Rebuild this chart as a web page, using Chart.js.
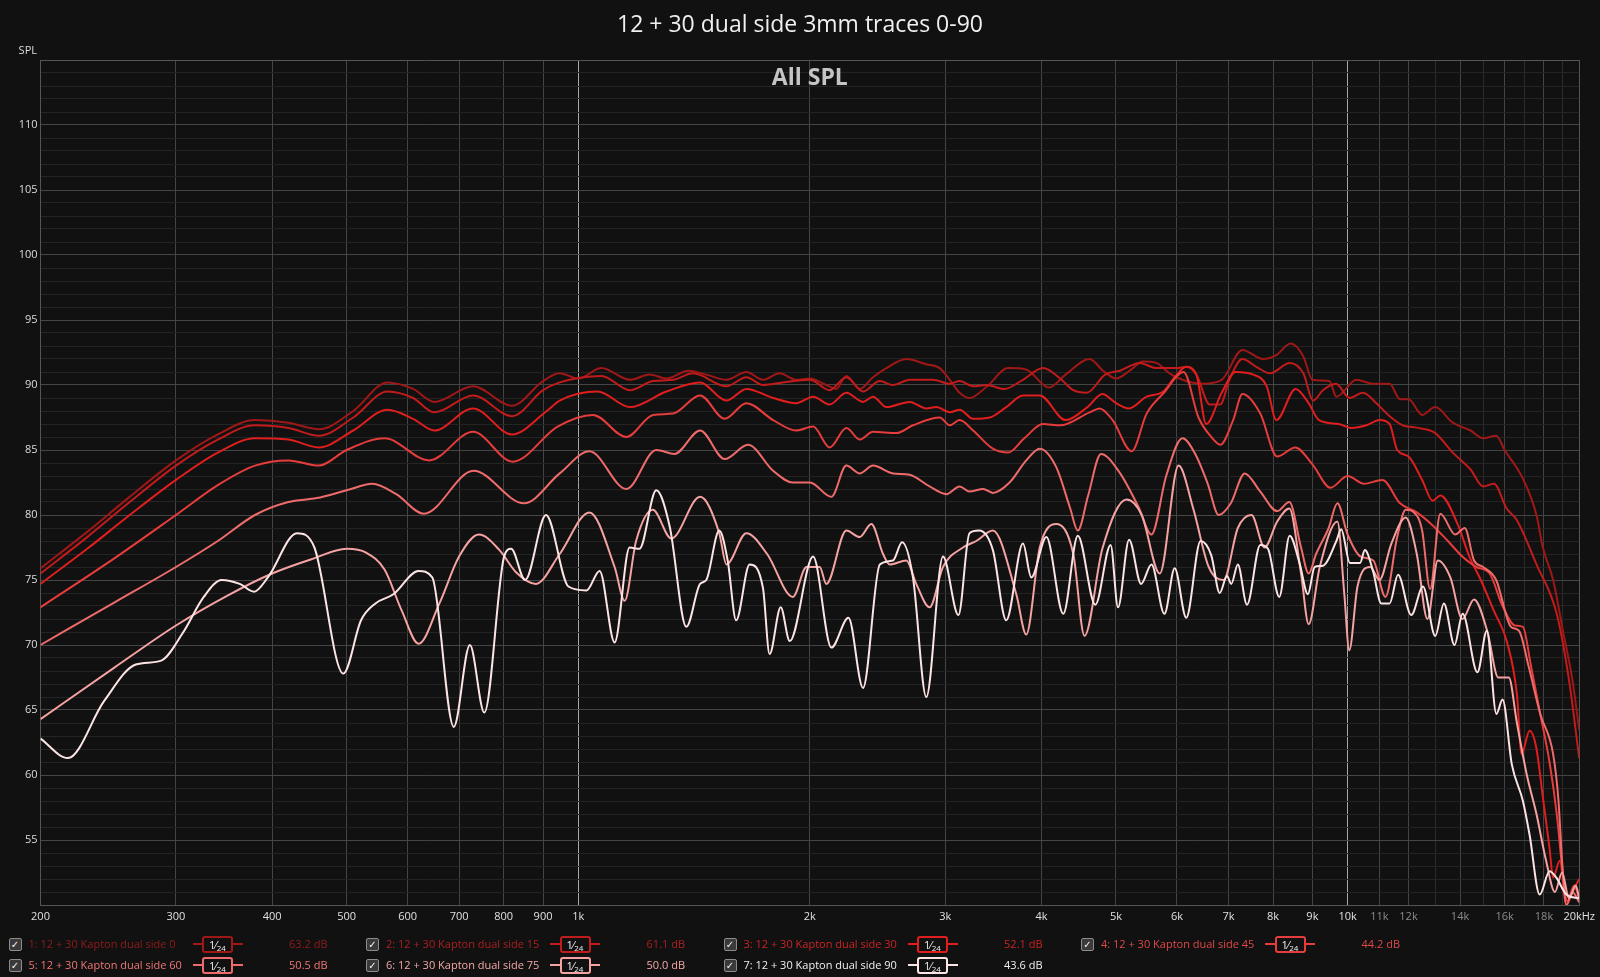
<!DOCTYPE html>
<html>
<head>
<meta charset="utf-8">
<script src="https://cdn.jsdelivr.net/npm/chart.js@4.4.1/dist/chart.umd.min.js"></script>
<style>
  html, body { margin: 0; padding: 0; background: #111111; }
  #wrap { position: relative; width: 1600px; height: 977px; overflow: hidden; font-family: 'Open Sans', sans-serif; }
  #canvas { position: absolute; left: 0; top: 0; }
  .cb { position: absolute; width: 11px; height: 11px; border: 1px solid #8c8c8c; border-radius: 2px; background: #3a3a3a; color: #f4f4f4; font: bold 10px 'DejaVu Sans', sans-serif; line-height: 11px; text-align: center; }
  .nm { position: absolute; font-size: 11px; line-height: 14px; white-space: nowrap; }
  .ln { position: absolute; height: 2px; }
  .bx { position: absolute; width: 27px; height: 13px; border: 2px solid; border-radius: 3px; background: #111; color: #f2f2f2; font-size: 11px; line-height: 13px; text-align: center; }
  .bx sub { font-size: 8px; vertical-align: -2px; line-height: 0; }
  .val { position: absolute; font-size: 11px; line-height: 14px; text-align: right; width: 60px; white-space: nowrap; }
</style>
</head>
<body>
<div id="wrap">
  <canvas id="canvas" width="1600" height="977"></canvas>
  <div id="legend"></div>
</div>
<script>
'use strict';

const chartTitle = '12 + 30 dual side 3mm traces 0-90';

// x axis ticks (Hz) and their labels ('' = grid line only)
const freqTicks = [200, 300, 400, 500, 600, 700, 800, 900, 1000, 2000, 3000, 4000, 5000, 6000, 7000, 8000, 9000,
  10000, 11000, 12000, 13000, 14000, 15000, 16000, 17000, 18000, 19000, 20000];
const freqLabels = ['200', '300', '400', '500', '600', '700', '800', '900', '1k', '2k', '3k', '4k', '5k', '6k', '7k', '8k', '9k',
  '10k', '11k', '12k', '', '14k', '', '16k', '', '18k', '', '20kHz'];
const dimLabels = ['11k', '12k', '14k', '16k', '18k'];

const seriesNames = ['1: 12 + 30 Kapton dual side 0', '2: 12 + 30 Kapton dual side 15', '3: 12 + 30 Kapton dual side 30',
  '4: 12 + 30 Kapton dual side 45', '5: 12 + 30 Kapton dual side 60', '6: 12 + 30 Kapton dual side 75',
  '7: 12 + 30 Kapton dual side 90'];
const seriesLevels = ['63.2 dB', '61.1 dB', '52.1 dB', '44.2 dB', '50.5 dB', '50.0 dB', '43.6 dB'];
const lineColors = ['#a01717', '#c21b1b', '#e01e1e', '#e63c3c', '#ef6b6b', '#f5a2a2', '#fde4e4'];
const textColors = ['#931c1c', '#ae1f1f', '#cc2424', '#e04848', '#f07676', '#f6a8a8', '#f0f0f0'];

// [Hz, dB SPL]
const side0 = [[200,75.9],[230,78.7],[260,81.3],[300,84.2],[340,86.2],[380,87.3],[420,87.1],[460,86.6],[510,88.0],[565,90.2],[610,89.7],[650,88.7],[730,89.9],[820,88.4],[900,90.3],[946,90.9],[1000,90.5],[1072,91.3],[1167,90.4],[1238,90.8],[1302,90.5],[1390,91.1],[1467,90.8],[1558,90.4],[1654,91.0],[1738,90.4],[1827,90.9],[1920,90.4],[2000,90.5],[2101,90.0],[2165,89.7],[2231,90.7],[2322,89.7],[2416,90.6],[2515,91.3],[2669,92.0],[2834,91.6],[2950,91.3],[3040,90.4],[3131,89.4],[3225,89.0],[3400,89.9],[3620,91.3],[3820,91.2],[4090,89.8],[4300,90.8],[4620,92.0],[4810,91.1],[5000,90.5],[5210,91.1],[5420,91.8],[5640,91.7],[5870,90.9],[6100,90.4],[6470,90.1],[6860,90.4],[7300,92.7],[7760,92.0],[8080,92.3],[8430,93.2],[8760,92.2],[9000,90.4],[9470,90.3],[9670,89.1],[10270,90.4],[10790,90.1],[11340,90.1],[11700,88.9],[12000,88.9],[12500,87.7],[13000,88.3],[13700,87.1],[14450,86.5],[15000,85.9],[15600,86.1],[16000,85.0],[16900,82.8],[17600,80.0],[17940,77.5],[18500,75.0],[19050,71.1],[19600,67.3],[20000,63.5]];
const side15 = [[200,75.5],[230,78.3],[260,80.9],[300,83.8],[340,85.8],[380,86.9],[420,86.7],[460,86.1],[510,87.5],[565,89.5],[610,89.0],[650,87.9],[730,89.2],[820,87.6],[900,89.6],[946,90.2],[1072,90.7],[1167,89.6],[1251,90.3],[1328,90.4],[1410,90.9],[1558,89.9],[1654,90.6],[1738,90.0],[1845,90.2],[2000,90.4],[2122,89.6],[2231,90.6],[2345,89.5],[2466,90.3],[2565,90.0],[2696,90.4],[2891,90.4],[3040,90.1],[3131,90.3],[3260,89.9],[3390,90.0],[3580,89.7],[3784,90.4],[4020,91.3],[4230,90.5],[4400,89.6],[4580,89.4],[4840,90.8],[5060,91.1],[5370,91.7],[5640,91.3],[5990,91.3],[6170,91.4],[6360,90.8],[6620,88.5],[6830,88.5],[7030,90.5],[7300,92.0],[7610,91.4],[7930,90.9],[8410,91.7],[8760,90.9],[9020,88.8],[9290,89.6],[9660,90.1],[10060,89.0],[10470,89.4],[10900,88.6],[11340,87.6],[11800,86.9],[12350,86.7],[13000,86.3],[13700,84.8],[14450,83.5],[15000,82.2],[15500,82.4],[16100,80.5],[16600,79.6],[17600,76.2],[18700,72.4],[19400,67.3],[20000,61.3]];
const side30 = [[200,74.7],[230,77.4],[260,79.9],[300,82.7],[340,84.8],[380,85.9],[420,85.8],[460,85.2],[510,86.5],[565,88.1],[610,87.4],[650,86.5],[730,88.2],[820,86.2],[910,88.0],[946,88.8],[1060,89.5],[1167,88.3],[1302,89.5],[1440,90.2],[1558,88.8],[1654,89.7],[1792,89.0],[1920,88.6],[2020,89.1],[2122,88.5],[2231,89.4],[2345,88.7],[2416,89.1],[2515,88.3],[2696,88.7],[2834,88.2],[2920,88.3],[3040,87.9],[3131,88.1],[3260,87.4],[3426,87.5],[3600,88.3],[3784,89.2],[3980,89.2],[4300,87.3],[4590,88.3],[4800,89.3],[5000,88.6],[5200,88.2],[5480,89.1],[5760,89.5],[5960,90.6],[6170,91.4],[6360,90.8],[6550,87.0],[6860,89.4],[7150,91.0],[7540,90.8],[7850,89.9],[8080,87.3],[8560,89.7],[8900,88.6],[9180,87.3],[9740,87.0],[10100,86.7],[10580,86.9],[11000,87.3],[11340,87.0],[11600,85.0],[12000,84.5],[12500,82.7],[12900,81.1],[13200,81.5],[13900,79.3],[14400,76.8],[14900,75.0],[15500,72.6],[16100,70.3],[16600,66.2],[16830,61.6],[17240,63.4],[17590,62.1],[17940,58.3],[18300,54.4],[18500,52.1],[18870,53.4],[19250,50.0],[19600,51.0],[20000,52.0]];
const side45 = [[200,72.9],[250,76.7],[300,80.0],[340,82.3],[380,83.8],[420,84.2],[460,83.8],[500,85.0],[560,85.9],[640,84.2],[730,86.4],[822,84.1],[940,86.8],[1045,87.7],[1155,86.0],[1251,87.7],[1328,87.8],[1440,89.2],[1550,87.4],[1654,88.6],[1792,87.3],[1920,86.5],[2020,86.8],[2122,85.2],[2231,86.7],[2322,85.8],[2416,86.4],[2591,86.3],[2723,86.9],[2950,87.5],[3040,86.9],[3131,87.3],[3260,86.5],[3459,85.1],[3620,84.8],[3800,85.9],[4018,87.0],[4230,86.9],[4620,87.9],[4760,88.2],[4950,87.3],[5240,84.9],[5480,87.8],[5770,89.4],[6120,91.0],[6400,87.5],[6650,86.0],[6830,85.4],[7100,87.3],[7300,89.3],[7700,87.8],[8100,84.5],[8550,85.2],[9000,83.9],[9500,82.1],[10000,83.0],[10500,82.4],[11100,82.7],[11700,80.9],[12300,80.2],[12900,79.2],[13500,78.0],[14100,76.8],[14700,76.0],[15300,75.5],[15900,73.0],[16500,71.5],[16900,71.4],[17300,68.5],[17800,64.7],[18300,61.0],[18700,57.0],[19000,53.0],[19300,50.3],[19700,51.5],[20000,50.5]];
const side60 = [[200,70.0],[250,73.3],[300,76.0],[340,78.0],[380,80.0],[420,81.0],[457,81.3],[500,81.9],[540,82.4],[580,81.6],[630,80.1],[731,83.4],[850,80.9],[946,83.2],[1034,84.9],[1155,82.0],[1263,85.0],[1334,84.7],[1440,86.5],[1550,84.3],[1662,85.4],[1792,83.4],[1901,82.5],[2000,82.5],[2133,81.4],[2231,83.8],[2322,83.2],[2416,83.8],[2565,83.2],[2696,83.1],[2862,82.2],[3010,81.6],[3131,82.2],[3225,81.8],[3360,82.0],[3459,81.7],[3636,82.5],[3822,84.2],[3980,85.1],[4180,83.7],[4360,80.5],[4460,78.8],[4600,81.5],[4780,84.7],[5050,83.3],[5350,80.6],[5560,78.5],[5810,83.0],[6100,85.9],[6350,84.6],[6580,82.4],[6800,80.0],[7050,80.9],[7350,83.2],[7700,81.8],[8100,80.3],[8400,81.0],[8700,77.5],[8900,75.5],[9100,77.0],[9450,79.0],[9700,80.9],[10000,78.5],[10400,76.8],[10800,76.5],[11200,73.7],[11600,78.3],[11900,80.4],[12200,80.2],[12500,78.8],[12800,74.3],[13200,80.1],[13800,78.5],[14200,79.0],[14600,76.5],[15000,76.0],[15600,75.0],[16300,71.4],[16700,71.1],[17200,68.3],[17800,64.7],[18500,61.6],[18800,58.0],[19000,53.4],[19250,50.0],[19600,51.0],[20000,50.2]];
const side75 = [[200,64.3],[250,68.3],[300,71.5],[350,73.8],[400,75.5],[450,76.6],[500,77.4],[530,77.1],[560,75.8],[590,72.6],[620,70.1],[660,73.2],[700,76.8],[743,78.5],[790,77.3],[830,75.6],[881,74.7],[946,77.0],[1034,80.2],[1115,76.0],[1149,73.4],[1189,78.0],[1250,80.4],[1321,78.2],[1440,81.4],[1525,78.6],[1558,76.2],[1654,78.6],[1760,77.0],[1901,73.7],[1980,76.0],[2060,76.0],[2101,74.7],[2231,78.8],[2322,78.3],[2404,79.3],[2490,77.0],[2540,76.2],[2669,76.5],[2750,74.7],[2862,72.9],[2979,76.0],[3163,77.5],[3291,78.0],[3459,78.8],[3710,73.9],[3822,70.8],[3980,77.5],[4180,79.3],[4400,77.0],[4550,70.7],[4800,77.4],[5160,81.2],[5400,80.0],[5700,75.5],[6030,83.8],[6300,80.5],[6600,76.0],[6900,75.0],[7200,79.0],[7500,80.0],[7800,77.5],[8100,79.5],[8400,80.5],[8700,75.5],[8900,71.6],[9200,76.0],[9700,79.5],[9900,74.0],[10050,69.6],[10300,74.5],[10700,76.0],[11000,75.0],[11400,77.8],[11900,79.8],[12300,77.0],[12700,72.0],[13100,76.5],[13600,75.2],[14100,72.0],[14600,73.5],[15200,71.0],[15700,67.5],[16200,67.5],[16600,64.0],[17100,60.0],[17600,57.0],[18100,53.5],[18600,51.0],[19000,52.5],[19400,50.5],[19800,51.5],[20000,50.5]];
const side90 = [[200,62.8],[217,61.3],[242,65.7],[266,68.5],[287,68.8],[306,70.9],[326,73.7],[344,75.0],[363,74.7],[379,74.1],[395,75.2],[431,78.6],[454,77.5],[495,67.8],[522,71.9],[545,73.2],[575,73.9],[620,75.7],[646,75.2],[689,63.7],[723,70.0],[755,64.8],[801,76.8],[818,77.4],[853,75.0],[908,80.0],[971,74.5],[1025,74.2],[1066,75.7],[1115,70.2],[1166,77.5],[1201,77.4],[1263,81.9],[1315,79.1],[1382,71.4],[1440,74.7],[1467,75.0],[1525,78.8],[1564,76.5],[1604,71.9],[1670,76.2],[1738,74.4],[1773,69.3],[1833,72.9],[1883,70.3],[2020,76.8],[2133,69.8],[2245,72.1],[2345,66.7],[2466,76.2],[2565,76.5],[2636,77.9],[2723,75.2],[2834,66.0],[2979,76.8],[3120,72.3],[3225,78.6],[3320,78.8],[3459,77.3],[3600,71.9],[3785,77.8],[3880,75.2],[4060,78.3],[4270,72.4],[4460,78.4],[4700,73.1],[4920,77.7],[5030,72.9],[5200,78.1],[5390,74.7],[5560,76.2],[5780,72.4],[5960,75.9],[6170,72.1],[6440,78.0],[6650,76.9],[6820,74.0],[6970,75.3],[7060,74.7],[7200,76.2],[7400,73.1],[7700,77.7],[7880,77.4],[8150,73.7],[8408,78.4],[8660,76.3],[8880,73.9],[9060,76.0],[9290,76.1],[9670,78.0],[9810,78.9],[10070,76.3],[10380,76.3],[10530,77.3],[10790,75.7],[11060,73.2],[11340,73.2],[11630,75.4],[12100,72.3],[12530,74.5],[13000,70.7],[13340,73.2],[13770,70.0],[14110,72.4],[14750,67.9],[15170,71.1],[15610,64.7],[15900,65.8],[16350,60.8],[16900,58.0],[17240,55.4],[17770,50.8],[18300,52.6],[18680,52.1],[19250,50.8],[20000,50.5]];

const allSeries = [side0, side15, side30, side45, side60, side75, side90];

// grid colours
const gridX = ctx => {
  const v = ctx.tick ? ctx.tick.value : 0;
  if (v === 1000 || v === 10000) return '#a6a6a6';
  if (v === 200 || v === 20000) return '#555555';
  const i = freqTicks.indexOf(v);
  return freqLabels[i] ? '#444444' : '#2c2c2c';
};
const gridY = ctx => {
  const v = ctx.tick ? ctx.tick.value : 0;
  if (v === 115) return '#555555';
  return v % 5 === 0 ? '#454545' : '#242424';
};

// texts: page title (centred on the canvas), axis name, "All SPL"
const textPlugin = {
  id: 'texts',
  beforeDatasetsDraw(chart) {
    const c = chart.ctx;
    const a = chart.chartArea;
    c.save();
    c.textBaseline = 'middle';
    c.textAlign = 'center';
    c.fillStyle = '#f0f0f0';
    c.font = '23px "Open Sans"';
    c.fillText(chartTitle, chart.width / 2, 25.3);
    c.fillStyle = '#c4c4c4';
    c.font = 'bold 23px "Open Sans"';
    c.fillText('All SPL', (a.left + a.right) / 2, 78);
    c.fillStyle = '#dcdcdc';
    c.font = '11px "Open Sans"';
    c.textAlign = 'right';
    c.fillText('SPL', 37, 51);
    c.restore();
  }
};

const chart = new Chart(document.getElementById('canvas').getContext('2d'), {
  type: 'line',
  data: {
    datasets: allSeries.map((s, i) => ({
      label: seriesNames[i],
      data: s.map(p => ({ x: p[0], y: p[1] })),
      borderColor: lineColors[i],
      borderWidth: 2,
      pointRadius: 0,
      cubicInterpolationMode: 'monotone',
      order: 6 - i,
    })),
  },
  options: {
    responsive: false,
    animation: false,
    events: [],
    layout: { padding: { left: 0, right: 19.5, top: 60, bottom: 42 } },
    plugins: {
      legend: { display: false },
      tooltip: { enabled: false },
      title: { display: false },
    },
    scales: {
      x: {
        type: 'logarithmic',
        min: 200,
        max: 20000,
        afterBuildTicks: s => { s.ticks = freqTicks.map(v => ({ value: v })); },
        afterFit: s => { s.height = 30; },
        border: { color: '#555555' },
        grid: { color: gridX, drawTicks: false, lineWidth: 1 },
        ticks: {
          autoSkip: false,
          maxRotation: 0,
          padding: 5,
          font: { family: 'Open Sans', size: 11 },
          color: ctx => {
            const lab = freqLabels[freqTicks.indexOf(ctx.tick.value)];
            return dimLabels.includes(lab) ? '#8c8c8c' : '#e0e0e0';
          },
          callback: v => freqLabels[freqTicks.indexOf(v)] || '',
        },
      },
      y: {
        type: 'linear',
        min: 50,
        max: 115,
        afterFit: s => { s.width = 40.5; },
        border: { color: '#555555' },
        grid: { color: gridY, drawTicks: false, lineWidth: 1 },
        ticks: {
          stepSize: 1,
          autoSkip: false,
          padding: 3,
          font: { family: 'Open Sans', size: 11 },
          color: '#dcdcdc',
          callback: v => (v % 5 === 0 && v >= 55 && v <= 110 ? String(v) : ''),
        },
      },
    },
  },
  plugins: [textPlugin],
});

// LEGEND (html under the plot)
const colX = [8.5, 366, 723.5, 1081];
const rowY = [944, 965];
const legendEl = document.getElementById('legend');
seriesNames.forEach((name, i) => {
  const x = colX[i % 4];
  const y = rowY[Math.floor(i / 4)];
  const c = lineColors[i];
  legendEl.insertAdjacentHTML('beforeend',
    `<div class="cb" style="left:${x}px;top:${y - 6.5}px">✓</div>` +
    `<div class="nm" style="left:${x + 20}px;top:${y - 7.5}px;color:${textColors[i]}">${name}</div>` +
    `<div class="ln" style="left:${x + 184}px;top:${y - 1}px;width:50px;background:${c}"></div>` +
    `<div class="bx" style="left:${x + 193.5}px;top:${y - 8.5}px;border-color:${c}">1⁄<sub>24</sub></div>` +
    `<div class="val" style="left:${x + 259}px;top:${y - 7.5}px;color:${textColors[i]}">${seriesLevels[i]}</div>`
  );
});
</script>
</body>
</html>
